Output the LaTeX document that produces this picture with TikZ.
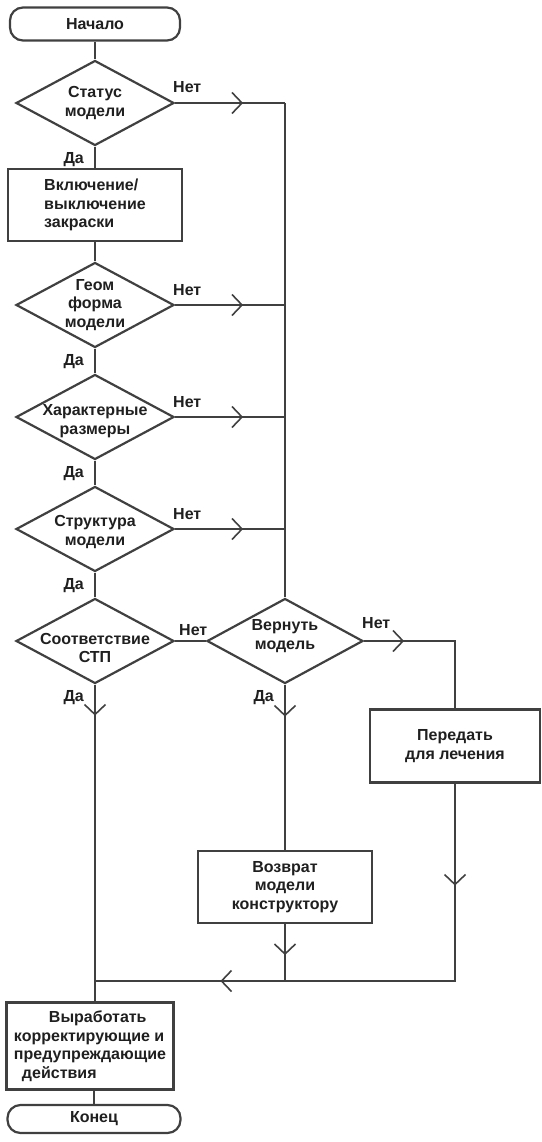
\documentclass[tikz,border=0pt]{standalone}
\usepackage{fontspec}
\setmainfont{Liberation Sans}
\usetikzlibrary{positioning}
\usetikzlibrary{shapes.geometric, arrows.meta, decorations.markings}

\begin{document}
\begin{tikzpicture}[x=1pt, y=-1pt, line width=2.2pt, color=black!75, text=black!88,
    font=\bfseries\fontsize{16}{18.5}\selectfont,
    termnode/.style={rectangle, rounded corners=13pt, draw, minimum width=170pt,
      minimum height=33pt, inner sep=0pt},
    boxnode/.style={rectangle, draw, minimum width=174pt, minimum height=72pt,
      inner sep=0pt, align=center},
    decnode/.style={diamond, draw, minimum width=158pt, minimum height=85pt, inner sep=0pt},
    nolbl/.style={anchor=base west, inner sep=0pt, xshift=-3pt, yshift=10pt},
    yeslbl/.style={anchor=base east, inner sep=0pt, xshift=-10pt, yshift=-17pt},
    chev/.style={postaction={decorate, decoration={markings, mark=at position #1 with
      {\arrow{Straight Barb[length=10pt, width=21pt, line width=1.6pt]}}}}}]
    \useasboundingbox (0,0) rectangle (541,1142);
    \node[termnode] (start) at (95,24) {Начало};
    \node[decnode, label={[align=center]center:Статус\\модели}] (status) at (95,103) {};
    \node[boxnode, align=left] (shading) at (95,205) {Включение/\\выключение\\закраски};
    \node[decnode, label={[align=center]center:Геом\\форма\\модели}] (geom_form) at (95,305) {};
    \node[decnode, label={[align=center, yshift=-4pt]center:Характерные\\размеры}] (char_dims) at (95,417) {};
    \node[decnode, label={[align=center, yshift=-3pt]center:Структура\\модели}] (struct) at (95,529) {};
    \node[decnode, label={[align=center, yshift=-7pt]center:Соответствие\\СТП}] (stp) at (95,641) {};
    \node[decnode, minimum width=156pt, label={[align=center, yshift=5pt]center:Вернуть\\модель}] (ret_model) at (285,641) {};
    \node[boxnode, minimum width=170pt, minimum height=73pt] (treat) at (455,746) {Передать\\для лечения};
    \node[boxnode] (back) at (285,887) {Возврат\\модели\\конструктору};
    \coordinate (join) at (95,981);
    \node[boxnode, minimum width=167pt, minimum height=87pt, align=left] (actions) at (90,1046)
      {\hspace*{35pt}Выработать\\корректирующие и\\предупреждающие\\\hspace*{8pt}действия};
    \node[termnode, minimum width=173pt, minimum height=28pt] (finish) at (94,1119) {Конец};
    \draw (start.south) -- (status.north);
    \draw (status.south) -- node[yeslbl, pos=0] {Да} (shading.north);
    \draw (shading.south) -- (geom_form.north);
    \draw (geom_form.south) -- node[yeslbl, pos=0] {Да} (char_dims.north);
    \draw (char_dims.south) -- node[yeslbl, pos=0] {Да} (struct.north);
    \draw (struct.south) -- node[yeslbl, pos=0] {Да} (stp.north);
    \foreach \d in {status, geom_form, char_dims, struct}
      \draw[chev=68pt] (\d.east) -- node[nolbl, pos=0] {Нет} (\d.east -| ret_model.north);
    \draw (status.east -| ret_model.north) -- (ret_model.north);
    \draw (stp.east) -- node[nolbl, pos=0, xshift=6pt, yshift=-4pt] {Нет} (ret_model.west);
    \draw[chev=40pt] (ret_model.east) -- node[nolbl, pos=0, yshift=3pt] {Нет}
      (ret_model.east -| treat.north) -- (treat.north);
    \draw[chev=32pt] (ret_model.south) -- node[yeslbl, pos=0] {Да} (back.north);
    \draw[chev=31pt] (back.south) -- (back.south |- join);
    \draw[chev=102pt, chev=432pt] (treat.south) -- (treat.south |- join) -- (join);
    \draw[chev=31pt] (stp.south) -- node[yeslbl, pos=0] {Да} (join) -- (join |- actions.north);
    \draw (finish.north |- actions.south) -- (finish.north);
  \end{tikzpicture}
\end{document}
